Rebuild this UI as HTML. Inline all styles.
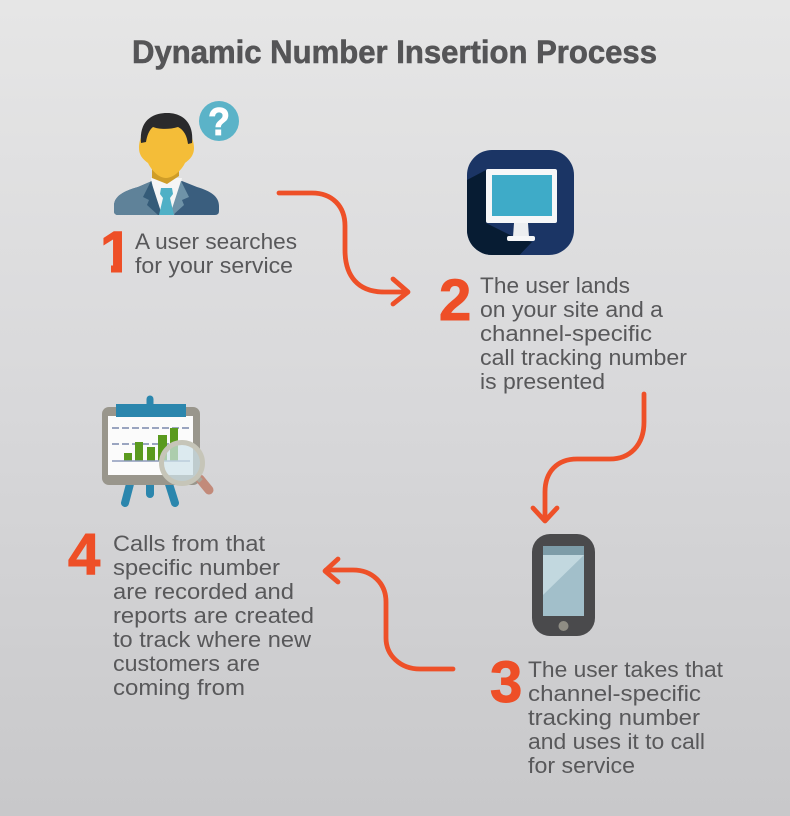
<!DOCTYPE html>
<html><head><meta charset="utf-8"><style>
html,body{margin:0;padding:0;background:#d5d5d5}
svg{display:block}
.t{font-family:"Liberation Sans",sans-serif;font-size:22px;fill:#58585a}
.n{font-family:"Liberation Sans",sans-serif;font-weight:bold;font-size:58px;fill:#ee4f27;stroke:#ee4f27;stroke-width:1}
.a{fill:none;stroke:#ee5028;stroke-width:4.8;stroke-linecap:round;stroke-linejoin:round}
</style></head><body>
<svg width="790" height="816" viewBox="0 0 790 816" xmlns="http://www.w3.org/2000/svg">
<defs>
<linearGradient id="bg" x1="0" y1="0" x2="0" y2="1"><stop offset="0" stop-color="#e6e6e6"/><stop offset="0.5" stop-color="#d8d8da"/><stop offset="1" stop-color="#c8c8ca"/></linearGradient>
<clipPath id="mc"><rect x="467" y="150" width="107" height="105" rx="25"/></clipPath>
<clipPath id="one"><polygon points="100,228 122,228 122,274 111,274 111,262 100,262"/></clipPath>
</defs>
<rect width="790" height="816" fill="url(#bg)"/>
<text x="132" y="63" font-family="Liberation Sans, sans-serif" font-weight="bold" font-size="32" fill="#555557" stroke="#555557" stroke-width="0.6" textLength="525" lengthAdjust="spacingAndGlyphs">Dynamic Number Insertion Process</text>

<!-- person -->
<circle cx="219" cy="121" r="20" fill="#5bb3c8"/>
<text x="208" y="135" font-family="Liberation Sans, sans-serif" font-weight="bold" font-size="39" fill="#fff" stroke="#fff" stroke-width="0.8" textLength="22" lengthAdjust="spacingAndGlyphs">?</text>
<path d="M114 211 V206 C114 196 124 191 138 187 L152 181 H182 L197 187 C210 191 219 196 219 206 V211 Q219 215 215 215 H118 Q114 215 114 211Z" fill="#3a5e7e"/>
<path d="M114 211 V206 C114 196 124 191 138 187 L152 181 L160 215 H118 Q114 215 114 211Z" fill="#5f8299"/>
<path d="M151 178 H182 L174 215 H158Z" fill="#f5f5f5"/>
<path d="M151 181 L143 197 L149 200 L147 205 L158 215 H162 Z" fill="#345b78"/>
<path d="M181 181 L189 197 L182 200 L184 205 L173 215 H170 Z" fill="#6f93a8"/>
<path d="M161 188 H172 L173 194 L170 198 L174 215 H159 L163 198 L160 194Z" fill="#4fb0c6"/>
<path d="M152 164 H179 V176 L167 184 L152 178Z" fill="#cf9d28"/>
<path d="M139 148 C139 136 146 124 166 124 C186 124 194 136 194 148 C194 156 189 160 185 163 C181 171 173 178 166 178 C159 178 152 171 148 163 C144 160 139 156 139 148Z" fill="#f4bd38"/>
<path d="M141 143 C139 122 151 113 167 113 C184 113 194 124 192 143 L188 144 C187 136 184 130 178 127 C168 130 158 129 153 127 C149 130 147 136 146 142Z" fill="#2a2a2c"/>

<!-- monitor -->
<rect x="467" y="150" width="107" height="105" rx="25" fill="#1b3565"/>
<polygon points="467,180 486,170 486,223 514,237 532,242 510,265 467,265" fill="#071c33" clip-path="url(#mc)"/>
<rect x="486" y="169" width="71" height="54" rx="2" fill="#f6f7f8"/>
<rect x="492" y="175" width="60" height="41" fill="#3eabc8"/>
<polygon points="514,223 528,223 529,237 513,237" fill="#eceef0"/>
<rect x="507" y="236" width="28" height="5" rx="2" fill="#f6f7f8"/>

<!-- chart -->
<line x1="150" y1="399" x2="150" y2="408" stroke="#2b86ad" stroke-width="7" stroke-linecap="round"/>
<line x1="150" y1="485" x2="150" y2="494" stroke="#2b86ad" stroke-width="8" stroke-linecap="round"/>
<path d="M130 484 L125 503 M169 484 L175 503" stroke="#2b86ad" stroke-width="8" stroke-linecap="round" fill="none"/>
<rect x="102" y="407" width="98" height="78" rx="7" fill="#99968c"/>
<rect x="108" y="416" width="85" height="59" fill="#fbfbfb"/>
<rect x="116" y="404" width="70" height="13" fill="#2b86ad"/>
<line x1="112" y1="428" x2="190" y2="428" stroke="#9aa5c0" stroke-width="2" stroke-dasharray="7 3"/>
<line x1="112" y1="444" x2="190" y2="444" stroke="#9aa5c0" stroke-width="2" stroke-dasharray="7 3"/>
<rect x="124" y="453" width="8" height="8" fill="#5a9a1e"/>
<rect x="135" y="442" width="8" height="19" fill="#5a9a1e"/>
<rect x="147" y="447" width="8" height="14" fill="#5a9a1e"/>
<rect x="158" y="435" width="9" height="26" fill="#5a9a1e"/>
<rect x="170" y="428" width="8" height="33" fill="#5a9a1e"/>
<line x1="112" y1="461" x2="190" y2="461" stroke="#8c9abb" stroke-width="1.5"/>
<line x1="200" y1="479" x2="209" y2="490" stroke="#c28a7a" stroke-width="9" stroke-linecap="round"/>
<line x1="195" y1="475" x2="201" y2="481" stroke="#a9a79c" stroke-width="5"/>
<circle cx="182" cy="463" r="20.5" fill="#cfe3ea" fill-opacity="0.7" stroke="#c6c5b8" stroke-width="5"/>

<!-- phone -->
<rect x="532" y="534" width="63" height="102" rx="18" fill="#4a4a4c"/>
<rect x="543" y="546" width="41" height="70" fill="#a2bfca"/>
<polygon points="543,555 584,555 543,595" fill="#c2d8df"/>
<rect x="543" y="546" width="41" height="9" fill="#7d9ca8"/>
<circle cx="563.5" cy="626" r="5" fill="#8f8d84"/>

<!-- arrows -->
<path class="a" d="M279 193 H312 C332 193 345 206 345 226 V250 C345 276 358 292 384 292 H407"/>
<path class="a" d="M393 279 L408 292 L393 304"/>
<path class="a" d="M644 394 V422 C644 445 630 459 610 459 H577 C557 459 545 472 545 492 V520"/>
<path class="a" d="M533 508 L545 521 L557 508"/>
<path class="a" d="M453 669 H420 C400 669 386 655 386 638 V602 C386 583 372 570 353 570 H326"/>
<path class="a" d="M338 559 L325 571 L338 582"/>

<!-- numbers -->
<text class="n" x="100" y="272" clip-path="url(#one)">1</text>
<text class="n" x="439" y="320">2</text>
<text class="n" x="490" y="702">3</text>
<text class="n" x="68" y="574">4</text>

<!-- text -->
<g class="t">
<text x="135" y="249" textLength="162" lengthAdjust="spacingAndGlyphs">A user searches</text>
<text x="135" y="273" textLength="158" lengthAdjust="spacingAndGlyphs">for your service</text>
<text x="480" y="293" textLength="150" lengthAdjust="spacingAndGlyphs">The user lands</text>
<text x="480" y="317" textLength="183" lengthAdjust="spacingAndGlyphs">on your site and a</text>
<text x="480" y="341" textLength="172" lengthAdjust="spacingAndGlyphs">channel-specific</text>
<text x="480" y="365" textLength="207" lengthAdjust="spacingAndGlyphs">call tracking number</text>
<text x="480" y="389" textLength="125" lengthAdjust="spacingAndGlyphs">is presented</text>
<text x="528" y="677" textLength="195" lengthAdjust="spacingAndGlyphs">The user takes that</text>
<text x="528" y="701" textLength="173" lengthAdjust="spacingAndGlyphs">channel-specific</text>
<text x="528" y="725" textLength="172" lengthAdjust="spacingAndGlyphs">tracking number</text>
<text x="528" y="749" textLength="177" lengthAdjust="spacingAndGlyphs">and uses it to call</text>
<text x="528" y="773" textLength="107" lengthAdjust="spacingAndGlyphs">for service</text>
<text x="113" y="551" textLength="152" lengthAdjust="spacingAndGlyphs">Calls from that</text>
<text x="113" y="575" textLength="167" lengthAdjust="spacingAndGlyphs">specific number</text>
<text x="113" y="599" textLength="181" lengthAdjust="spacingAndGlyphs">are recorded and</text>
<text x="113" y="623" textLength="201" lengthAdjust="spacingAndGlyphs">reports are created</text>
<text x="113" y="647" textLength="198" lengthAdjust="spacingAndGlyphs">to track where new</text>
<text x="113" y="671" textLength="147" lengthAdjust="spacingAndGlyphs">customers are</text>
<text x="113" y="695" textLength="132" lengthAdjust="spacingAndGlyphs">coming from</text>
</g>
</svg>
</body></html>
